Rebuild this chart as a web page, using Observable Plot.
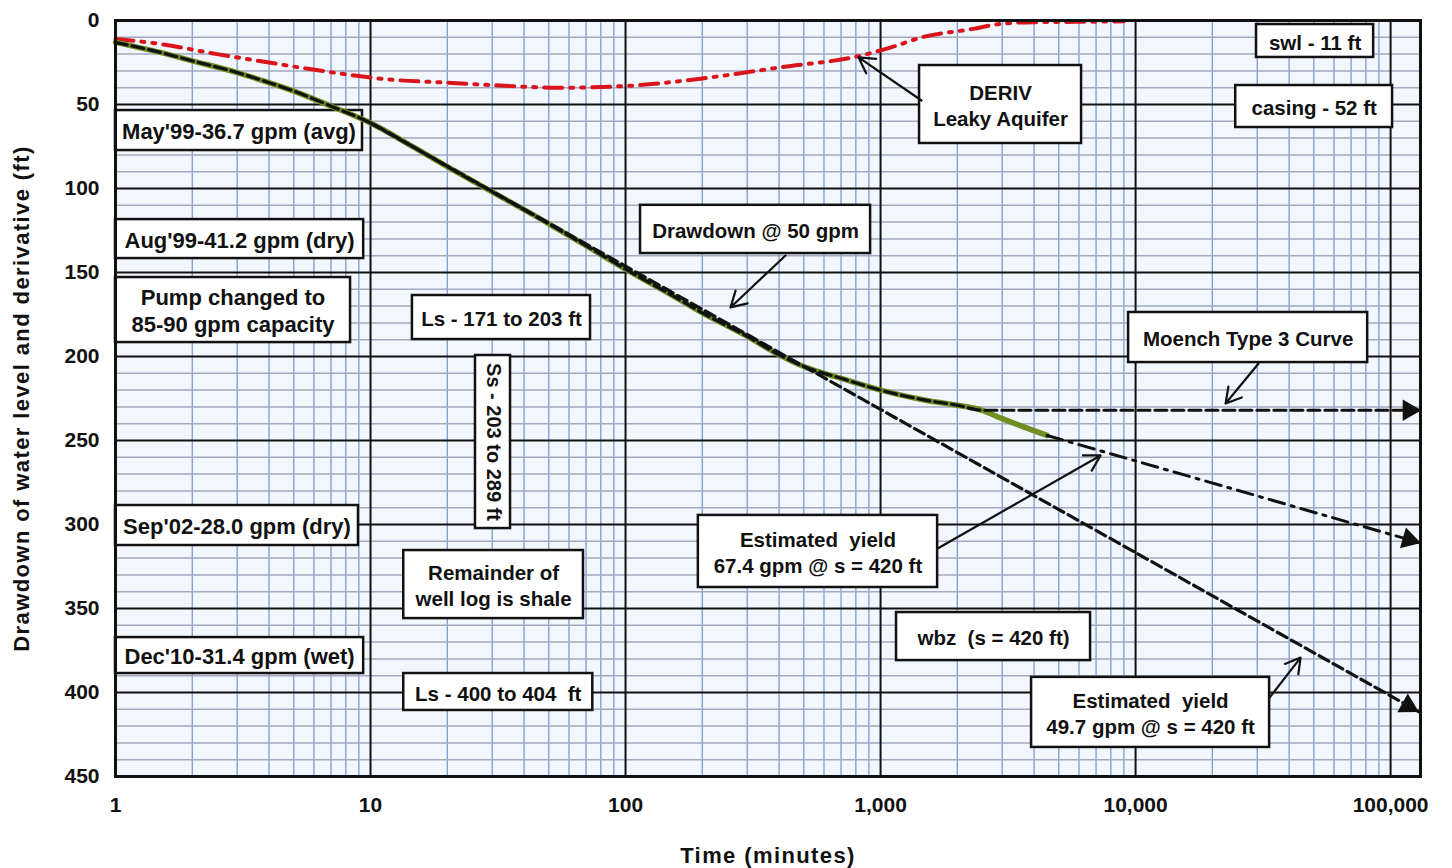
<!DOCTYPE html>
<html><head><meta charset="utf-8">
<script src="https://cdn.jsdelivr.net/npm/d3@7"></script>
<script src="https://cdn.jsdelivr.net/npm/@observablehq/plot@0.6"></script>
<style>body{margin:0;background:#fff} svg{display:block}</style>
</head><body><div id="chart"></div>
<script>
// ---- axis ticks ----
const xTicks = [1, 10, 100, 1000, 10000, 100000];
const yTicks = [0, 50, 100, 150, 200, 250, 300, 350, 400, 450];

// ---- measured drawdown (ft) vs time (min) ----
const measuredTime     = [1, 1.5, 2, 3, 4, 5, 7, 10, 15, 20, 30, 50, 70, 100, 150, 200, 300, 400, 500, 700, 1000, 1500, 2000, 2500, 3000, 4500];
const measuredDrawdown = [13, 19, 24, 31, 37, 42, 51, 61, 76, 87, 102, 121, 134, 148, 163, 174, 188, 199, 206, 213, 220, 226, 229, 232, 237, 247];

// ---- Moench type 3 curve ----
const moenchTime     = [1, 1.5, 2, 3, 4, 5, 7, 10, 15, 20, 30, 50, 70, 100, 150, 200, 300, 400, 500, 700, 1000, 1500, 2000, 2500, 131000];
const moenchDrawdown = [13, 19, 24, 31, 37, 42, 51, 61, 76, 87, 102, 121, 134, 148, 163, 174, 188, 199, 206, 213, 220, 226, 229, 232, 232];

// ---- straight-line extrapolation (49.7 gpm) ----
const straightTime     = [10, 131000];
const straightDrawdown = [61, 412];

// ---- late-time extrapolation (67.4 gpm) ----
const lateTime     = [4500, 131000];
const lateDrawdown = [247, 311];

// ---- derivative (leaky aquifer) ----
const derivTime  = [1, 1.5, 2.5, 4, 5.6, 8, 11, 20, 32, 55, 100, 200, 400, 830, 1100, 1450, 2300, 2950, 4000, 5900, 9000];
const derivValue = [11, 14, 20, 25, 28.6, 32, 34.7, 37, 38.7, 40, 39, 34.5, 28, 21, 16, 10, 5, 2, 1, 0.8, 0.5];

// ---- annotation boxes (data coordinates) ----
const boxText = ["May'99-36.7 gpm (avg)", "Aug'99-41.2 gpm (dry)", "Pump changed to\n85-90 gpm capacity", "Ls - 171 to 203 ft",
  "Sep'02-28.0 gpm (dry)", "Remainder of\nwell log is shale", "Dec'10-31.4 gpm (wet)", "Ls - 400 to 404  ft",
  "Drawdown @ 50 gpm", "DERIV\nLeaky Aquifer", "swl - 11 ft", "casing - 52 ft", "Moench Type 3 Curve",
  "Estimated  yield\n67.4 gpm @ s = 420 ft", "wbz  (s = 420 ft)", "Estimated  yield\n49.7 gpm @ s = 420 ft"];
const boxT1 = [1, 1, 1, 14.6, 1, 13.5, 1, 13.5, 114.5, 1422, 29800, 24700, 9390, 193, 1155, 3910];
const boxT2 = [9.3, 9.4, 8.35, 72.9, 8.97, 68.4, 9.4, 74.4, 914, 6140, 85800, 101800, 81300, 1674, 6660, 33540];
const boxS1 = [53.6, 118.5, 153, 163.7, 288.7, 315.5, 367.3, 388.7, 110, 26.8, 2.4, 38.7, 173.8, 294.6, 352.4, 391];
const boxS2 = [77.4, 141.7, 191.7, 189.9, 312.5, 356, 388.7, 410.7, 138.7, 73.2, 22, 63.7, 203.6, 337.5, 381, 432.7];
const boxBig = [true, true, true, false, true, false, true, false, false, false, false, false, false, false, false, false];

const vBoxText = ["Ss - 203 to 289 ft"];
const vBoxT1 = [25.8], vBoxT2 = [35.4], vBoxS1 = [199.4], vBoxS2 = [302.4];

// ---- pointer arrows (data coordinates) ----
const arrowT1 = [424, 1448, 30360, 1674, 33540];
const arrowS1 = [139.9, 47.6, 204.2, 314.3, 403];
const arrowT2 = [258, 820, 22540, 7290, 44370];
const arrowS2 = [170.8, 22, 228, 258.9, 379.2];

const xLabel = "Time (minutes)";
const yLabel = "Drawdown of water level and derivative (ft)";

// ---- build tables ----
const zip = (xs, ys) => xs.map((x, i) => ({t: x, s: ys[i]}));
const measured = zip(measuredTime, measuredDrawdown);
const moench = zip(moenchTime, moenchDrawdown);
const straight = zip(straightTime, straightDrawdown);
const late = zip(lateTime, lateDrawdown);
const deriv = zip(derivTime, derivValue);
const boxes = boxText.map((text, i) => ({text, t1: boxT1[i], t2: boxT2[i], s1: boxS1[i], s2: boxS2[i], big: boxBig[i],
  tc: Math.sqrt(boxT1[i] * boxT2[i]), sc: (boxS1[i] + boxS2[i]) / 2}));
const vboxes = vBoxText.map((text, i) => ({text, t1: vBoxT1[i], t2: vBoxT2[i], s1: vBoxS1[i], s2: vBoxS2[i],
  tc: Math.sqrt(vBoxT1[i] * vBoxT2[i]), sc: (vBoxS1[i] + vBoxS2[i]) / 2}));
const arrows = arrowT1.map((t, i) => ({t1: t, s1: arrowS1[i], t2: arrowT2[i], s2: arrowS2[i]}));

const xMax = 131000;
const minorX = [];
for (const d of xTicks) for (let m = 2; m <= 9; m++) if (d * m <= xMax) minorX.push(d * m);
const minorY = d3.range(10, 450, 10).filter(v => v % 50 !== 0);
const tips = [
  {t: 118000, s: 232, r: 90},
  {t: 117000, s: 408, r: 119},
  {t: 118000, s: 309, r: 106}
];

const FONT = "Liberation Sans, Arial, sans-serif";
const chart = Plot.plot({
  width: 1452, height: 868,
  marginLeft: 115, marginRight: 32, marginTop: 20, marginBottom: 92,
  style: {fontFamily: FONT, fontWeight: "bold", color: "#111", background: "#fff"},
  x: {type: "log", domain: [1, xMax]},
  y: {domain: [0, 450], reverse: true},
  marks: [
    Plot.frame({fill: "#f2f7fd", stroke: null}),
    Plot.ruleX(minorX, {stroke: "#7d9bd6", strokeWidth: 1.3}),
    Plot.ruleY(minorY, {stroke: "#a2a9c0", strokeWidth: 1.5}),
    Plot.ruleX(xTicks, {stroke: "#111", strokeWidth: 2}),
    Plot.ruleY(yTicks, {stroke: "#111", strokeWidth: 2}),
    Plot.rect(boxes, {x1: "t1", x2: "t2", y1: "s1", y2: "s2", fill: "#fff", stroke: "#111", strokeWidth: 2.5}),
    Plot.rect(vboxes, {x1: "t1", x2: "t2", y1: "s1", y2: "s2", fill: "#fff", stroke: "#111", strokeWidth: 2.5}),
    Plot.line(deriv, {x: "t", y: "s", stroke: "#d9141b", strokeWidth: 4, strokeDasharray: "18,8,3,8,3,8", curve: "monotone-x"}),
    Plot.line(measured, {x: "t", y: "s", stroke: "#6f8f22", strokeWidth: 5.5, curve: "monotone-x"}),
    Plot.line(moench, {x: "t", y: "s", stroke: "#111", strokeWidth: 3.2, strokeDasharray: "12,5", curve: "monotone-x"}),
    Plot.line(straight, {x: "t", y: "s", stroke: "#111", strokeWidth: 3.2, strokeDasharray: "11,5"}),
    Plot.line(late, {x: "t", y: "s", stroke: "#111", strokeWidth: 3, strokeDasharray: "16,7,3,7"}),
    Plot.dot(tips, {x: "t", y: "s", rotate: "r", symbol: "triangle", fill: "#111", r: 8}),
    Plot.text(boxes.filter(d => d.big), {x: "tc", y: "sc", text: "text", fontSize: 22, fill: "#111", lineHeight: 1.2}),
    Plot.text(boxes.filter(d => !d.big), {x: "tc", y: "sc", text: "text", fontSize: 20.5, fill: "#111", lineHeight: 1.3}),
    Plot.text(vboxes, {x: "tc", y: "sc", text: "text", fontSize: 20, fill: "#111", rotate: 90}),
    Plot.arrow(arrows, {x1: "t1", y1: "s1", x2: "t2", y2: "s2", stroke: "#111", strokeWidth: 2.2, headLength: 12}),
    Plot.frame({stroke: "#111", strokeWidth: 3}),
    Plot.axisX({ticks: xTicks, tickFormat: d3.format(","), tickSize: 0, tickPadding: 21, fontSize: 21,
      label: xLabel, labelAnchor: "center", labelOffset: 86, labelArrow: "none"}),
    Plot.axisY({ticks: yTicks, tickSize: 0, tickPadding: 16, fontSize: 21,
      label: yLabel, labelAnchor: "center", labelOffset: 102, labelArrow: "none"})
  ]
});
// widen the axis titles the way the original is letter-spaced
chart.querySelectorAll("text").forEach(el => {
  if (el.textContent === xLabel || el.textContent === yLabel) {
    el.setAttribute("font-size", 22);
    el.setAttribute("letter-spacing", "1.4");
  }
});
document.getElementById("chart").appendChild(chart);
</script>
</body></html>
